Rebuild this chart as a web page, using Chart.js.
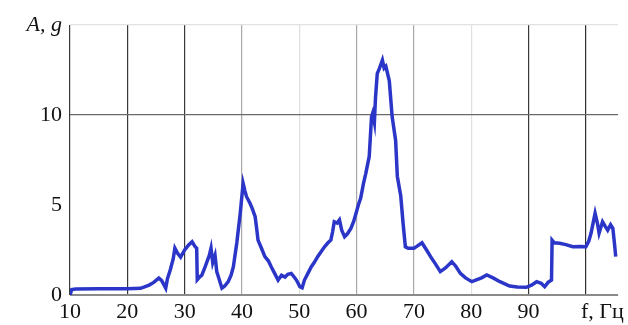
<!DOCTYPE html>
<html>
<head>
<meta charset="utf-8">
<script src="https://cdn.jsdelivr.net/npm/chart.js@4"></script>
<style>
  html, body { margin: 0; padding: 0; background: #fff; }
  #wrap { width: 628px; height: 325px; }
</style>
</head>
<body>
<div id="wrap"><canvas id="ampChart"></canvas></div>
<script>
// частота, Гц
const freq = [10, 10.3, 11, 15, 20, 22.3, 23, 23.8, 24.6, 25.5, 26, 26.7, 27, 27.5, 28, 28.3, 28.8, 29.3, 30, 30.7,
  31.3, 31.8, 32.1, 32.2, 32.6, 33, 33.5, 33.9, 34.3, 34.6, 34.9, 35.3, 35.6, 35.9, 36.5, 37, 37.6, 38.1, 38.5, 39.1,
  39.7, 40.2, 40.5, 40.8, 41.4, 41.8, 42.3, 42.6, 42.8, 43.4, 44, 44.6, 45.1, 45.7, 46.3, 46.9, 47.5, 48, 48.6, 49.1,
  49.5, 50.1, 50.5, 50.9, 51.5, 52.1, 52.6, 53.2, 53.8, 54.4, 55, 55.5, 55.8, 56.1, 56.6, 57, 57.4, 57.9, 58.4, 59,
  59.5, 59.9, 60.3, 60.7, 61.2, 61.6, 62.2, 62.4, 62.6, 62.8, 63.1, 63.3, 63.6, 64, 64.5, 64.8, 65.1, 65.7, 66.2, 66.8,
  67.1, 67.7, 68.1, 68.5, 69, 70, 70.5, 71.4, 72.2, 72.9, 73.8, 74.6, 75.5, 76.6, 77.3, 78.1, 79, 80.1, 81, 81.8,
  82.7, 83.8, 85, 86.7, 88, 89.6, 90.5, 91.4, 92.2, 92.8, 93.4, 94, 94.1, 94.5, 95.4, 96.5, 97.7, 99, 100, 100.5,
  100.9, 101.6, 102, 102.3, 102.9, 103.4, 103.8, 104.3, 104.7, 105, 105.2];
// амплитуда, g
const amp = [0, 0.3, 0.33, 0.35, 0.35, 0.37, 0.45, 0.55, 0.7, 0.94, 0.8, 0.38, 0.9, 1.4, 2.0, 2.6, 2.3, 2.1, 2.5, 2.78,
  2.96, 2.7, 2.6, 0.85, 1.0, 1.1, 1.5, 1.85, 2.2, 2.6, 1.8, 2.2, 1.3, 1.0, 0.38, 0.5, 0.74, 1.1, 1.57, 2.9,
  4.55, 6.2, 5.8, 5.46, 5.1, 4.8, 4.35, 3.6, 3.05, 2.6, 2.13, 1.9, 1.57, 1.2, 0.83, 1.1, 1.0, 1.15, 1.2, 1.0,
  0.83, 0.46, 0.4, 0.83, 1.2, 1.57, 1.8, 2.13, 2.4, 2.68, 2.9, 3.05, 3.5, 4.07, 4.0, 4.17, 3.6, 3.24, 3.4, 3.7,
  4.1, 4.54, 5.0, 5.37, 6.2, 6.76, 7.7, 8.8, 9.9, 10.1, 9.6, 11.0, 12.3, 12.6, 13.05, 12.6, 12.7, 11.9, 9.9, 8.6,
  6.6, 5.5, 4.0, 2.68, 2.6, 2.6, 2.7, 2.9, 2.5, 2.13, 1.7, 1.3, 1.5, 1.85, 1.6, 1.2, 0.95, 0.74, 0.85, 0.95,
  1.11, 0.95, 0.74, 0.5, 0.45, 0.43, 0.55, 0.74, 0.65, 0.46, 0.7, 0.83, 3.05, 2.9, 2.87, 2.8, 2.68, 2.7, 2.68, 3.0,
  3.44, 4.54, 4.0, 3.44, 4.07, 3.8, 3.6, 3.9, 3.7, 2.8, 2.13];

const xTicks = [10, 20, 30, 40, 50, 60, 70, 80, 90, 100];
const xTickLabels = ['10', '20', '30', '40', '50', '60', '70', '80', '90', '      f, Гц'];
const yTicks = [0, 5, 10, 15];
const yTickLabels = ['0', '5', '10', 'A, g'];

// цвет сетки как на картинке (неравномерный)
const xGridColors = ['#3a3a3a', '#3a3a3a', '#3a3a3a', '#a8a8a8', '#dedede', '#a8a8a8', '#a8a8a8', '#e0e0e0', '#3a3a3a', '#2e2e2e'];
const yGridColors = ['#8a8a8a', 'rgba(0,0,0,0)', '#6a6a6a', '#e2e2e2'];

const serif = "'Liberation Serif', 'DejaVu Serif', serif";

const points = freq.map((f, i) => ({ x: f, y: amp[i] }));

const ctx = document.getElementById('ampChart');
new Chart(ctx, {
  type: 'line',
  data: {
    datasets: [{
      data: points,
      borderColor: '#2b36c8',
      borderWidth: 3.5,
      pointRadius: 0,
      tension: 0,
      fill: false
    }]
  },
  options: {
    responsive: true,
    maintainAspectRatio: false,
    animation: false,
    layout: { padding: { top: 25, right: 3, left: 0, bottom: 0 } },
    plugins: { legend: { display: false }, tooltip: { enabled: false } },
    scales: {
      x: {
        type: 'linear',
        min: 10,
        max: 105.6,
        afterBuildTicks: axis => { axis.ticks = xTicks.map(v => ({ value: v })); },
        afterFit: axis => { axis.height = 30; },
        border: { display: true, color: '#8a8a8a', width: 1 },
        grid: {
          drawTicks: false,
          lineWidth: 1.2,
          color: c => xGridColors[xTicks.indexOf(c.tick ? c.tick.value : -1)] || 'rgba(0,0,0,0)'
        },
        ticks: {
          padding: 4,
          color: '#111',
          maxRotation: 0,
          autoSkip: false,
          font: { family: serif, size: 22 },
          callback: v => xTickLabels[xTicks.indexOf(v)]
        }
      },
      y: {
        type: 'linear',
        min: 0,
        max: 15,
        afterBuildTicks: axis => { axis.ticks = yTicks.map(v => ({ value: v })); },
        afterFit: axis => { axis.width = 70; },
        border: { display: false },
        grid: {
          drawTicks: false,
          lineWidth: 1.2,
          color: c => yGridColors[yTicks.indexOf(c.tick ? c.tick.value : -1)] || 'rgba(0,0,0,0)'
        },
        ticks: {
          padding: 8,
          color: '#111',
          autoSkip: false,
          font: c => ({
            family: serif,
            size: 22,
            style: (c.tick && c.tick.value === 15) ? 'italic' : 'normal'
          }),
          callback: v => yTickLabels[yTicks.indexOf(v)]
        }
      }
    }
  }
});
</script>
</body>
</html>
